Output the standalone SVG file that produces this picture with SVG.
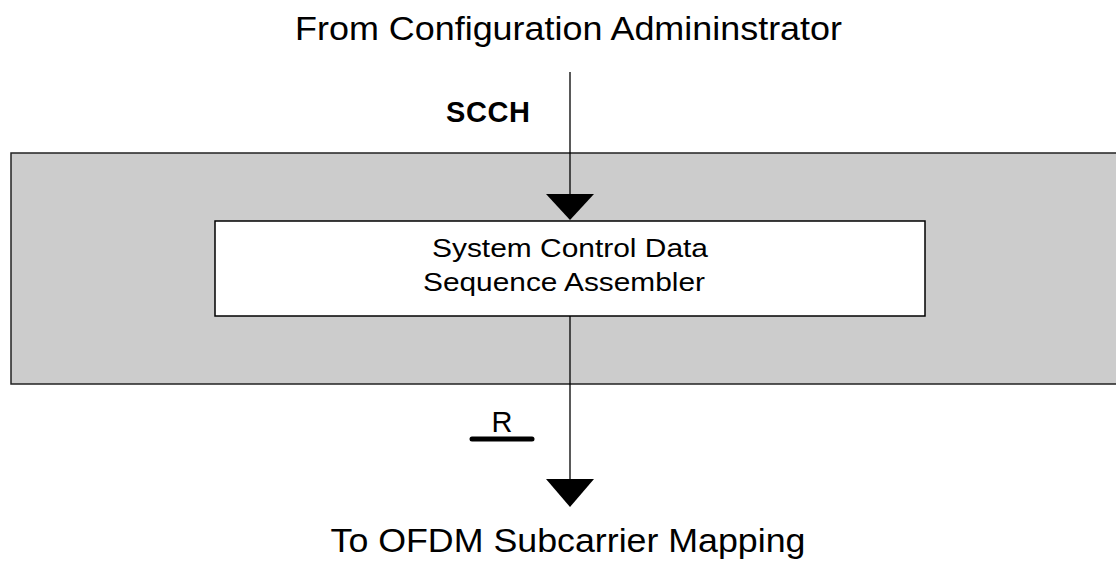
<svg xmlns="http://www.w3.org/2000/svg" width="1116" height="565" viewBox="0 0 1116 565">
<style>
.t{font-family:"Liberation Sans",Arial,sans-serif;fill:#000}
.ln{stroke:#000;stroke-width:1.3;fill:none}
</style>
<rect x="0" y="0" width="1116" height="565" fill="#fff"/>
<g id="title"><text class="t" x="568.5" y="40" font-size="33" text-anchor="middle" textLength="547" lengthAdjust="spacingAndGlyphs">From Configuration Admininstrator</text></g>
<g id="outer"><rect x="11" y="153" width="1110" height="231" fill="#cccccc" stroke="#222" stroke-width="1.5"/></g>
<g id="assembler">
<rect x="215" y="221" width="710" height="95" fill="#fff" stroke="#000" stroke-width="1.5"/>
<text class="t" x="570" y="257" font-size="26" text-anchor="middle" textLength="276" lengthAdjust="spacingAndGlyphs">System Control Data</text>
<text class="t" x="564" y="291" font-size="26" text-anchor="middle" textLength="282" lengthAdjust="spacingAndGlyphs">Sequence Assembler</text>
</g>
<g id="connectors">
<line class="ln" x1="570" y1="72" x2="570" y2="200"/>
<polygon points="546,194 594,194 570,220" fill="#000"/>
<line class="ln" x1="570" y1="316" x2="570" y2="485"/>
<polygon points="546,479 594,479 570,507" fill="#000"/>
<text class="t" x="446" y="122" font-size="29" font-weight="bold" textLength="84">SCCH</text>
<text class="t" x="502" y="432" font-size="29" text-anchor="middle">R</text>
<line x1="472" y1="439" x2="532" y2="439" stroke="#000" stroke-width="5" stroke-linecap="round"/>
</g>
<g id="bottom"><text class="t" x="568" y="552" font-size="33" text-anchor="middle" textLength="475" lengthAdjust="spacingAndGlyphs">To OFDM Subcarrier Mapping</text></g>
</svg>
